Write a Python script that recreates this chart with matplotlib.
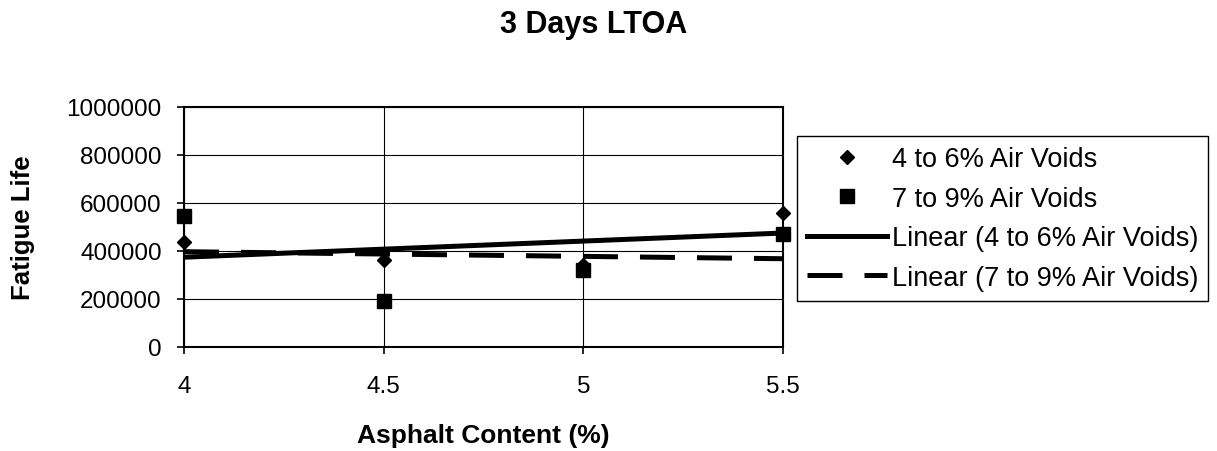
import matplotlib
matplotlib.use('Agg')
import matplotlib.pyplot as plt
import numpy as np

plt.rcParams['font.family'] = ['Liberation Sans', 'DejaVu Sans']

# Werte
asphalt_content = [4, 4.5, 5, 5.5]
voids_4_6 = [437000, 364000, 340000, 557000]
voids_7_9 = [546000, 193000, 320000, 471000]

label_4_6 = '4 to 6% Air Voids'
label_7_9 = '7 to 9% Air Voids'

W, H = 1217, 452
fig = plt.figure(figsize=(W / 100, H / 100), dpi=100)
ax = fig.add_axes([184 / W, 1 - 348 / H, 599 / W, 240 / H])

# Messpunkte
ax.plot(asphalt_content, voids_4_6, linestyle='none', marker='D', markersize=7,
        color='black', label=label_4_6, clip_on=False, zorder=3)
ax.plot(asphalt_content, voids_7_9, linestyle='none', marker='s', markersize=10,
        color='black', label=label_7_9, clip_on=False, zorder=3)

# Lineare Trendlinien
x_fit = np.array([asphalt_content[0], asphalt_content[-1]])
p1 = np.polyfit(asphalt_content, voids_4_6, 1)
p2 = np.polyfit(asphalt_content, voids_7_9, 1)
ax.plot(x_fit, np.polyval(p1, x_fit), color='black', linewidth=3.6,
        label='Linear (' + label_4_6 + ')', zorder=4)
ax.plot(x_fit, np.polyval(p2, x_fit), color='black', linewidth=3.6,
        linestyle=(0, (7, 4.4)), label='Linear (' + label_7_9 + ')', zorder=4)

ax.set_xlim(4, 5.5)
ax.set_ylim(0, 1000000)
ax.set_xticks(asphalt_content)
ax.set_xticklabels(['4', '4.5', '5', '5.5'])
ax.set_yticks(np.arange(0, 1000001, 200000))
ax.set_yticklabels([str(v) for v in range(0, 1000001, 200000)])

ax.grid(True, color='black', linewidth=0.8)
ax.set_axisbelow(True)
for s in ax.spines.values():
    s.set_linewidth(1.5)
    s.set_color('black')

ax.tick_params(axis='both', labelsize=17.5, length=5, width=1.2, color='black')
ax.tick_params(axis='x', pad=15)
ax.tick_params(axis='y', pad=11)

ax.set_xlabel('Asphalt Content (%)', fontsize=19, fontweight='bold')
ax.xaxis.set_label_coords(0.5, -0.315)
ax.set_ylabel('Fatigue Life', fontsize=18.5, fontweight='bold')
ax.yaxis.set_label_coords(-0.249, 0.5)

fig.text(594 / W, 1 - 25 / H, '3 Days LTOA', fontsize=22, fontweight='bold',
         ha='center', va='center')

leg = ax.legend(loc='upper left', bbox_to_anchor=(797 / W, 1 - 137 / H),
                bbox_transform=fig.transFigure, borderaxespad=0, fontsize=19.5,
                numpoints=1, handlelength=2.95, handletextpad=0.18,
                labelspacing=0.5, borderpad=0.37, fancybox=False,
                framealpha=1, edgecolor='black')
leg.get_frame().set_linewidth(1.0)

fig.savefig('out.png', dpi=100)
